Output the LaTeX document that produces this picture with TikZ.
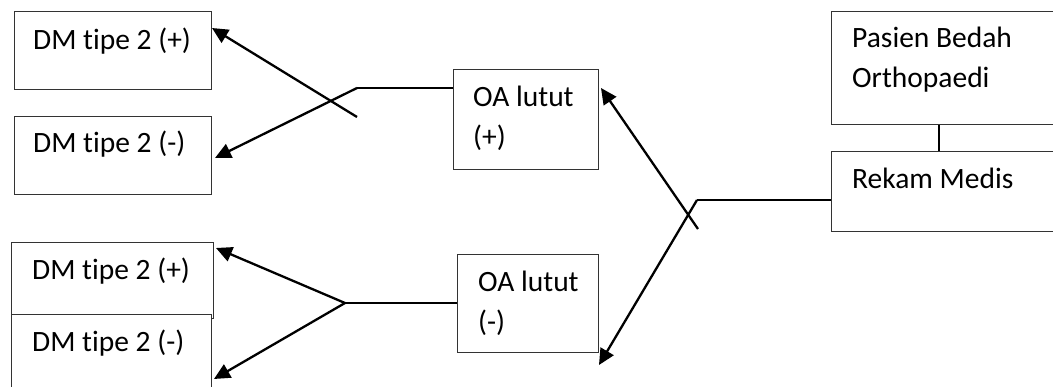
\documentclass[tikz,border=0pt]{standalone}
\usepackage{fontspec}
\setmainfont{Carlito}[Ligatures=CommonOff]
\usetikzlibrary{arrows.meta}
\begin{document}
\begin{tikzpicture}[x=1pt,y=-1pt,
  box/.style={draw=black!80,line width=1.1pt,fill=white,rectangle,inner sep=0pt,anchor=north west},
  txt/.style={anchor=base west,inner sep=0pt,font=\fontsize{29.5}{40}\selectfont},
  conn/.style={line width=2.3pt,line cap=butt},
  arr/.style={conn,-{Triangle[length=16pt,width=15pt]}}]
\useasboundingbox (0,0) rectangle (1053,387);
\clip (0,0) rectangle (1053,387);
% boxes
\node[box,minimum width=197pt,minimum height=78pt] (dmpa) at (14,11) {};
\node[box,minimum width=197pt,minimum height=78pt] (dmma) at (14,116) {};
\node[box,minimum width=202pt,minimum height=76pt] (dmpb) at (11,242) {};
\node[box,minimum width=200pt,minimum height=90pt] (dmmb) at (11,314) {};
\node[box,minimum width=145pt,minimum height=100pt] (oap) at (453,69) {};
\node[box,minimum width=141pt,minimum height=98pt] (oam) at (457,254) {};
\node[box,minimum width=240pt,minimum height=113pt] (pas) at (831,11) {};
\node[box,minimum width=240pt,minimum height=80pt] (rek) at (831,151) {};
% texts
\node[txt] (t1) at (33,50) {DM tipe 2 (+)};
\node[txt] (t2) at (33,153) {DM tipe 2 (-)};
\node[txt] (t3) at (32,280) {DM tipe 2 (+)};
\node[txt] (t4) at (32,352) {DM tipe 2 (-)};
\node[txt] (t5) at (473,107) {OA lutut};
\node[txt] (t6) at (473,147) {(+)};
\node[txt] (t7) at (478,292) {OA lutut};
\node[txt] (t8) at (478,332) {(-)};
\node[txt] (t9) at (852,48) {Pasien Bedah};
\node[txt] (t10) at (852,88) {Orthopaedi};
\node[txt] (t11) at (852,189) {Rekam Medis};
% junction coordinates
\coordinate (ja) at (357,88);
\coordinate (jb) at (357,117);
\coordinate (jc) at (345,303);
\coordinate (jd) at (697,200);
\coordinate (je) at (698,229);
\coordinate (ta) at (212,28);
\coordinate (tb) at (215,158);
\coordinate (tc) at (216,248);
\coordinate (td) at (214,379);
\coordinate (te) at (601,88);
\coordinate (tf) at (599,365);
% connectors
\draw[conn] (oap.west |- ja) -- (ja);
\draw[arr] (ja) -- (tb);
\draw[arr] (jb) -- (ta);
\draw[conn] (oam.west |- jc) -- (jc);
\draw[arr] (jc) -- (tc);
\draw[arr] (jc) -- (td);
\draw[conn] (rek.west |- jd) -- (jd);
\draw[arr] (jd) -- (tf);
\draw[arr] (je) -- (te);
\draw[conn] (pas.south -| 939,0) -- (rek.north -| 939,0);
\end{tikzpicture}
\end{document}
